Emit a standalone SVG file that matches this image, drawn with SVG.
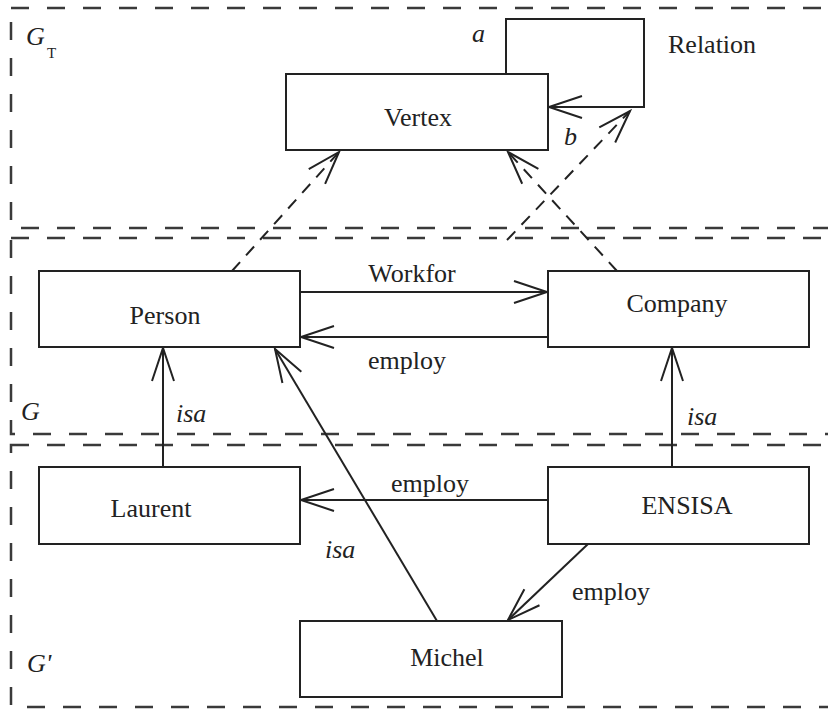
<svg xmlns="http://www.w3.org/2000/svg" width="828" height="709" viewBox="0 0 828 709">
<style>
text{font-family:"Liberation Serif","Times New Roman",serif;font-size:26px;fill:#222}
.it{font-style:italic}
.node rect{fill:#fff;stroke:#222;stroke-width:2}
.frame{fill:none;stroke:#3a3a3a;stroke-width:2.5;stroke-dasharray:18 18}
.edge{fill:none;stroke:#222;stroke-width:2}
.dash{stroke-dasharray:12 9}
</style>
<defs>
<marker id="arr" markerUnits="userSpaceOnUse" viewBox="-36 -14 40 28" refX="0" refY="0" markerWidth="40" markerHeight="28" orient="auto" overflow="visible">
<path d="M-33,-11 L0,0 L-33,11" fill="none" stroke="#222" stroke-width="2"/>
</marker>
</defs>
<rect width="828" height="709" fill="#fff"/>
<g id="frames">
<rect class="frame" x="11" y="8" width="840" height="220"/>
<rect class="frame" x="11" y="238" width="840" height="196"/>
<rect class="frame" x="11" y="445" width="840" height="262"/>
<text x="26" y="45" class="it">G</text><text x="47" y="58" style="font-size:15px">T</text>
<text x="21" y="420" class="it">G</text>
<text x="27" y="672" class="it">G'</text>
</g>
<g id="connectors">
<polyline class="edge" points="506,74 506,19 644,19 644,107 549,107" marker-end="url(#arr)"/>
<line class="edge dash" x1="232" y1="271" x2="339" y2="152" marker-end="url(#arr)"/>
<line class="edge dash" x1="617" y1="271" x2="508" y2="152" marker-end="url(#arr)"/>
<line class="edge dash" x1="507" y1="240" x2="630" y2="111" marker-end="url(#arr)"/>
<line class="edge" x1="300" y1="292" x2="547" y2="292" marker-end="url(#arr)"/>
<line class="edge" x1="548" y1="337" x2="301" y2="337" marker-end="url(#arr)"/>
<line class="edge" x1="163" y1="467" x2="163" y2="348" marker-end="url(#arr)"/>
<line class="edge" x1="672" y1="467" x2="672" y2="348" marker-end="url(#arr)"/>
<line class="edge" x1="548" y1="500" x2="301" y2="500" marker-end="url(#arr)"/>
<line class="edge" x1="437" y1="621" x2="275" y2="349" marker-end="url(#arr)"/>
<line class="edge" x1="588" y1="544" x2="508" y2="620" marker-end="url(#arr)"/>
<text x="472" y="42" class="it">a</text>
<text x="564" y="145" class="it">b</text>
<text x="668" y="53">Relation</text>
<text x="412" y="282" text-anchor="middle">Workfor</text>
<text x="407" y="369" text-anchor="middle">employ</text>
<text x="176" y="422" class="it">isa</text>
<text x="687" y="425" class="it">isa</text>
<text x="430" y="492" text-anchor="middle">employ</text>
<text x="325" y="558" class="it">isa</text>
<text x="572" y="600">employ</text>
</g>
<g id="vertex" class="node"><rect x="286" y="74" width="262" height="76"/><text x="418" y="126" text-anchor="middle">Vertex</text></g>
<g id="person" class="node"><rect x="39" y="271" width="261" height="76"/><text x="165" y="324" text-anchor="middle">Person</text></g>
<g id="company" class="node"><rect x="548" y="271" width="261" height="76"/><text x="677" y="312" text-anchor="middle">Company</text></g>
<g id="laurent" class="node"><rect x="39" y="467" width="261" height="77"/><text x="151" y="517" text-anchor="middle">Laurent</text></g>
<g id="ensisa" class="node"><rect x="548" y="467" width="261" height="77"/><text x="687" y="514" text-anchor="middle">ENSISA</text></g>
<g id="michel" class="node"><rect x="300" y="621" width="262" height="76"/><text x="447" y="666" text-anchor="middle">Michel</text></g>
</svg>
